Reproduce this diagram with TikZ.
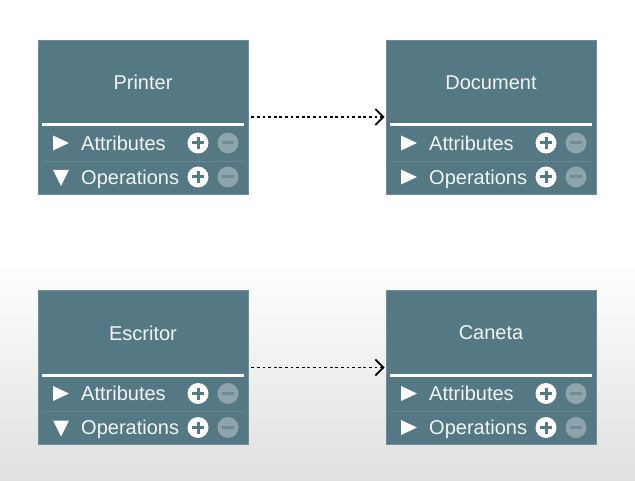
\documentclass[tikz,border=0pt]{standalone}
\usepackage{fontspec}
\setmainfont{Liberation Sans}
\usetikzlibrary{arrows.meta}
\definecolor{boxfill}{HTML}{547884}
\definecolor{boxline}{HTML}{6E8D98}
\definecolor{sepline}{HTML}{66868F}
\definecolor{minusfill}{HTML}{8EA3AB}
\definecolor{txt}{HTML}{F2F4F5}
\definecolor{bgbot}{HTML}{E0E0E0}
\tikzset{
  classbox/.style={draw=boxline, line width=0.8pt, fill=boxfill, minimum width=210pt, minimum height=154pt, inner sep=0pt},
  titletext/.style={text=txt, font=\fontsize{20}{22}\selectfont, inner sep=0pt},
  rowtext/.style={text=txt, font=\fontsize{20}{22}\selectfont, anchor=base west, inner sep=0pt},
  depend/.style={line width=1.7pt, dash pattern=on 2.8pt off 2.8pt, -{Straight Barb[length=8pt,width=16pt,line width=1.7pt]}, black},
}
\newcommand\umlclass[5]{% name, x, y, title, ops triangle (r/d)
  \node[classbox] (#1) at (#2,#3) {};
  \begin{scope}[shift={(#2,#3)}]
    \node[titletext] (#1-title) at (0,-34.5) {#4};
    \draw[white, line width=3pt] (-101,8) -- (101,8);
    \draw[sepline, line width=0.8pt] (-101,44) -- (101,44);
    % attributes row
    \fill[white] (-90,18.5) -- (-74,26) -- (-90,33.5) -- cycle;
    \node[rowtext] (#1-attr) at (-62,33.2) {Attributes};
    \fill[white] (55,26) circle (10.5);
    \draw[boxfill, line width=3pt] (49,26) -- (61,26) (55,20) -- (55,32);
    \fill[minusfill] (85,26) circle (10.5);
    \draw[boxfill!85!white, line width=3pt] (79,26) -- (91,26);
    % operations row
    \ifx r#5
      \fill[white] (-90,52.5) -- (-74,60) -- (-90,67.5) -- cycle;
    \else
      \fill[white] (-90,53) -- (-74,53) -- (-82,69) -- cycle;
    \fi
    \node[rowtext] (#1-ops) at (-62,67.2) {Operations};
    \fill[white] (55,60) circle (10.5);
    \draw[boxfill, line width=3pt] (49,60) -- (61,60) (55,54) -- (55,66);
    \fill[minusfill] (85,60) circle (10.5);
    \draw[boxfill!85!white, line width=3pt] (79,60) -- (91,60);
  \end{scope}
}
\begin{document}
\begin{tikzpicture}[x=1pt, y=-1pt]
  \useasboundingbox (0,0) rectangle (635,481);
  \fill[white] (0,0) rectangle (635,262);
  \shade[top color=white, bottom color=bgbot] (0,262) rectangle (635,481);
  \umlclass{printer}{143}{117}{Printer}{d}
  \umlclass{document}{491}{117}{Document}{r}
  \umlclass{escritor}{143}{367.5}{Escritor}{d}
  \umlclass{caneta}{491}{367.5}{Caneta}{r}
  \draw[depend, shorten <=3pt, shorten >=1pt] (printer.east) -- (document.west);
  \draw[depend, shorten <=3pt, shorten >=1pt] (escritor.east) -- (caneta.west);
\end{tikzpicture}
\end{document}
